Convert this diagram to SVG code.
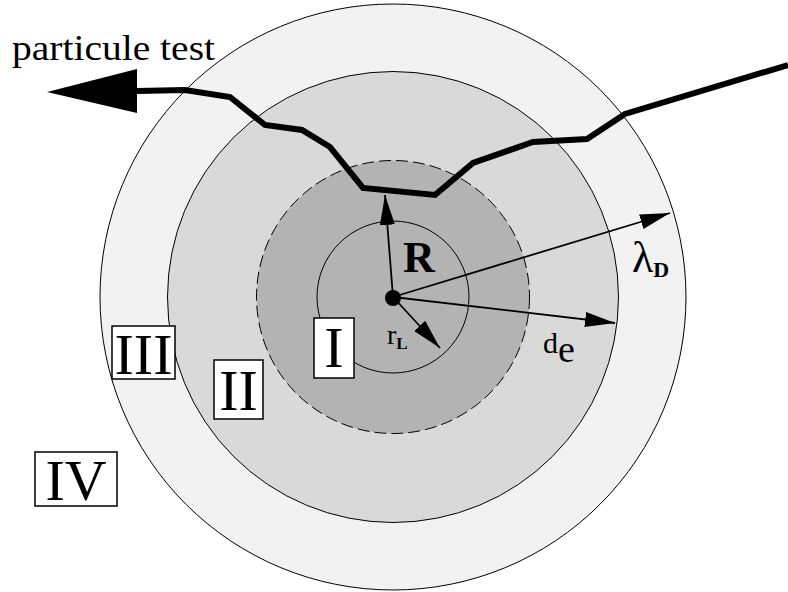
<svg xmlns="http://www.w3.org/2000/svg" width="788" height="592" viewBox="0 0 788 592">
<defs>
<style>
.ring{stroke:#000;stroke-width:1}
.txt{font-family:"Liberation Serif","Times New Roman",serif;fill:#000}
.box{fill:#fff;stroke:#000;stroke-width:1.5}
.thin{fill:none;stroke:#000;stroke-width:1.8}
</style>
<marker id="ah" markerUnits="userSpaceOnUse" markerWidth="32" markerHeight="16" refX="30" refY="7.5" orient="auto" viewBox="0 0 32 16">
<path d="M0,0 L30,7.5 L0,15 Z" fill="#000"/>
</marker>
</defs>
<rect width="788" height="592" fill="#fff"/>
<g id="region-IV-circle"><circle cx="393" cy="297" r="293" fill="#f2f2f2" class="ring"/></g>
<g id="region-III-circle"><circle cx="393" cy="297" r="225.5" fill="#d9d9d9" class="ring"/></g>
<g id="region-R-circle"><circle cx="393" cy="297" r="136.5" fill="#b3b3b3" stroke="#000" stroke-width="1" stroke-dasharray="12 5"/></g>
<g id="region-rL-circle"><circle cx="393" cy="297" r="76" fill="none" class="ring"/></g>
<g id="connectors">
<line x1="393" y1="297" x2="385" y2="195" class="thin" marker-end="url(#ah)"/>
<line x1="393" y1="297" x2="440" y2="348" class="thin" marker-end="url(#ah)"/>
<line x1="393" y1="297" x2="670" y2="213" class="thin" marker-end="url(#ah)"/>
<line x1="393" y1="297" x2="615" y2="323" class="thin" marker-end="url(#ah)"/>
<polyline points="137,91 185,90 230,97 265,125 302,130 330,147 363,188 435,195 473,163 533,142 587,139 625,114 788,65" fill="none" stroke="#000" stroke-width="6" stroke-linejoin="miter"/>
<polygon points="47,92 137,69 137,113" fill="#000"/>
</g>
<g id="center"><circle cx="393" cy="298" r="8" fill="#000"/></g>
<g id="label-particule"><text x="12" y="60" class="txt" font-size="36" textLength="203" lengthAdjust="spacingAndGlyphs">particule test</text></g>
<g id="label-R"><text x="403" y="272" class="txt" font-size="44" font-weight="bold">R</text></g>
<g id="label-rL"><text x="387" y="344" class="txt" font-size="28">r<tspan font-size="17" font-weight="bold" dy="5">L</tspan></text></g>
<g id="label-lambdaD"><text x="632" y="272" class="txt" font-size="44">λ<tspan font-size="22" font-weight="bold" dy="5">D</tspan></text></g>
<g id="label-de"><text x="543" y="353" class="txt" font-size="30">d<tspan font-size="38" dy="9">e</tspan></text></g>
<g id="node-I"><rect x="314" y="318" width="40" height="60" class="box"/><text x="334" y="367" class="txt" font-size="58" text-anchor="middle">I</text></g>
<g id="node-II"><rect x="214" y="360" width="49" height="59" class="box"/><text x="238.5" y="410" class="txt" font-size="58" text-anchor="middle">II</text></g>
<g id="node-III"><rect x="112" y="326" width="63" height="53" class="box"/><text x="143.5" y="374" class="txt" font-size="58" text-anchor="middle">III</text></g>
<g id="node-IV"><rect x="35" y="452" width="82" height="54" class="box"/><text x="76" y="500" class="txt" font-size="58" text-anchor="middle">IV</text></g>
</svg>
